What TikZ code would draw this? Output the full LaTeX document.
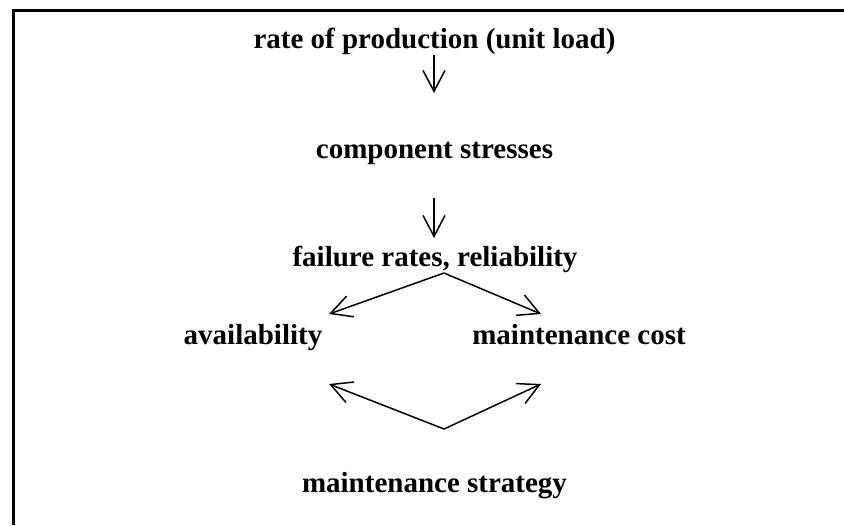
\documentclass[tikz,border=0pt]{standalone}
\usepackage{fontspec}
\setmainfont{Liberation Serif}
\usetikzlibrary{arrows.meta}
\begin{document}
\begin{tikzpicture}[x=0.5pt,y=-0.5pt,
  label/.style={anchor=base,inner sep=0pt,font=\fontsize{14.5}{17}\selectfont\bfseries},
  arr/.style={line width=0.75pt,-{Straight Barb[length=10.5pt,width=11pt,line width=0.75pt]}},
  frame/.style={line width=1.5pt}]
  \useasboundingbox (0,0) rectangle (844,525);
  % open frame along the top and left edges
  \draw[frame] (844,10) -- (13,10) -- (13,525);

  % labels
  \node[label] (prod)  at (434.5,48)  {rate of production (unit load)};
  \node[label] (comp)  at (434.5,158) {component stresses};
  \node[label] (fail)  at (435,266)   {failure rates, reliability};
  \node[label] (avail) at (253,344)   {availability};
  \node[label] (cost)  at (579,344)   {maintenance cost};
  \node[label] (strat) at (434.5,492) {maintenance strategy};

  % connector end points
  \coordinate (a1s) at (434,55);   \coordinate (a1e) at (434,93);
  \coordinate (a2s) at (434,198);  \coordinate (a2e) at (434,238);
  \coordinate (fork) at (444,273);
  \coordinate (availin) at (329,314);
  \coordinate (costin)  at (541,314);
  \coordinate (join) at (444,429);
  \coordinate (availout) at (329,384);
  \coordinate (costout)  at (541,384);

  % connectors
  \draw[arr] (a1s) -- (a1e);
  \draw[arr] (a2s) -- (a2e);
  \draw[arr] (fork) -- (availin);
  \draw[arr] (fork) -- (costin);
  \draw[arr] (join) -- (availout);
  \draw[arr] (join) -- (costout);
\end{tikzpicture}
\end{document}
